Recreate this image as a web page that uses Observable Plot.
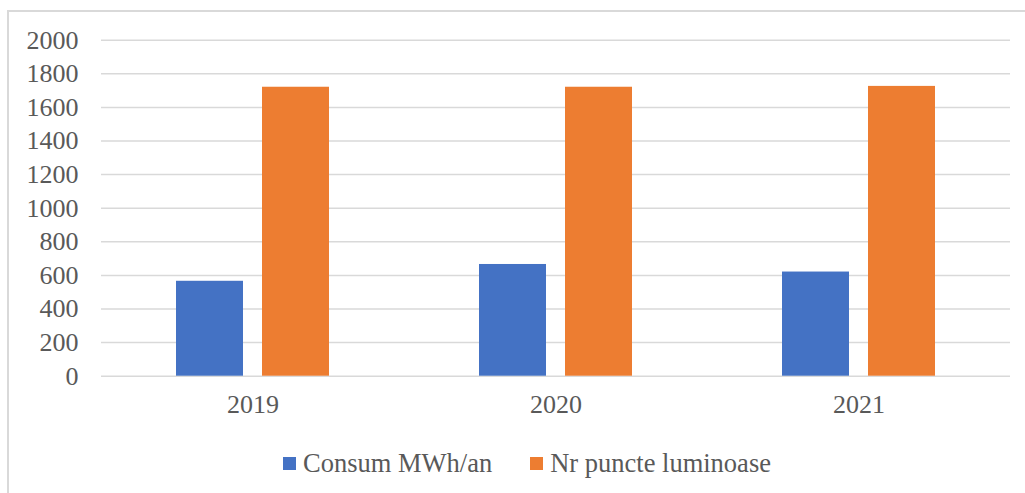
<!DOCTYPE html>
<html>
<head>
<meta charset="utf-8">
<script src="https://cdn.jsdelivr.net/npm/d3@7"></script>
<script src="https://cdn.jsdelivr.net/npm/@observablehq/plot@0.6"></script>
<style>
  html, body { margin: 0; padding: 0; background: #fff; }
  #wrap { position: relative; width: 1025px; height: 493px; overflow: hidden; font-family: "Liberation Serif", "Times New Roman", Tinos, "DejaVu Serif", serif; }
  #frame { position: absolute; left: 7px; top: 10px; width: 1040px; height: 520px; border: 2px solid #d9d9d9; box-sizing: border-box; }
  #chart { position: absolute; left: 0; top: 0; }
  #legend { position: absolute; top: 448px; left: 283px; display: flex; align-items: center; font-size: 26.5px; color: #595959; white-space: nowrap; font-family: "Liberation Serif", "Times New Roman", Tinos, "DejaVu Serif", serif; }
  .item { display: flex; align-items: center; }
  .sw { width: 13px; height: 13px; margin-right: 7px; }
  #chart svg text { font-family: "Liberation Serif", "Times New Roman", Tinos, "DejaVu Serif", serif; }
</style>
</head>
<body>
<div id="wrap">
  <div id="frame"></div>
  <div id="chart"></div>
  <div id="legend"></div>
</div>
<script>
const years = ["2019", "2020", "2021"];
const seriesNames = ["Consum MWh/an", "Nr puncte luminoase"];
const consum = [565, 665, 620];
const puncte = [1720, 1720, 1725];
const colors = ["#4472C4", "#ED7D31"];
const yTicks = [0, 200, 400, 600, 800, 1000, 1200, 1400, 1600, 1800, 2000];

const data = [];
years.forEach((y, i) => {
  data.push({year: y, series: seriesNames[0], value: consum[i]});
  data.push({year: y, series: seriesNames[1], value: puncte[i]});
});

const serif = "'Liberation Serif', 'Times New Roman', Tinos, 'DejaVu Serif', serif";

const plot = Plot.plot({
  width: 1025,
  height: 430,
  marginTop: 39.7,
  marginBottom: 54.3,
  marginLeft: 101,
  marginRight: 14.3,
  style: {fontFamily: serif, fontSize: "26px", color: "#595959", background: "transparent", overflow: "visible"},
  fx: {domain: years, padding: 0, label: null, axis: null},
  x: {domain: seriesNames, paddingInner: 0.217, paddingOuter: 0.866, axis: null},
  y: {domain: [0, 2000], label: null, axis: null},
  color: {domain: seriesNames, range: colors},
  marks: [
    Plot.gridY(yTicks, {stroke: "#d9d9d9", strokeOpacity: 1, strokeWidth: 1.5}),
    Plot.barY(data, {fx: "year", x: "series", y: "value", fill: "series"}),
    Plot.axisY(yTicks, {tickSize: 0, tickPadding: 23, fill: "#595959", fontSize: 26, tickFormat: d => String(d)}),
    Plot.axisFx({anchor: "bottom", tickSize: 0, tickPadding: 18, fill: "#595959", fontSize: 26, label: null})
  ]
});
document.getElementById("chart").appendChild(plot);

const legend = document.getElementById("legend");
seriesNames.forEach((s, i) => {
  const item = document.createElement("div");
  item.className = "item";
  if (i > 0) item.style.marginLeft = "38px";
  const sw = document.createElement("div");
  sw.className = "sw";
  sw.style.background = colors[i];
  const t = document.createElement("span");
  t.textContent = s;
  item.appendChild(sw);
  item.appendChild(t);
  legend.appendChild(item);
});
</script>
</body>
</html>
